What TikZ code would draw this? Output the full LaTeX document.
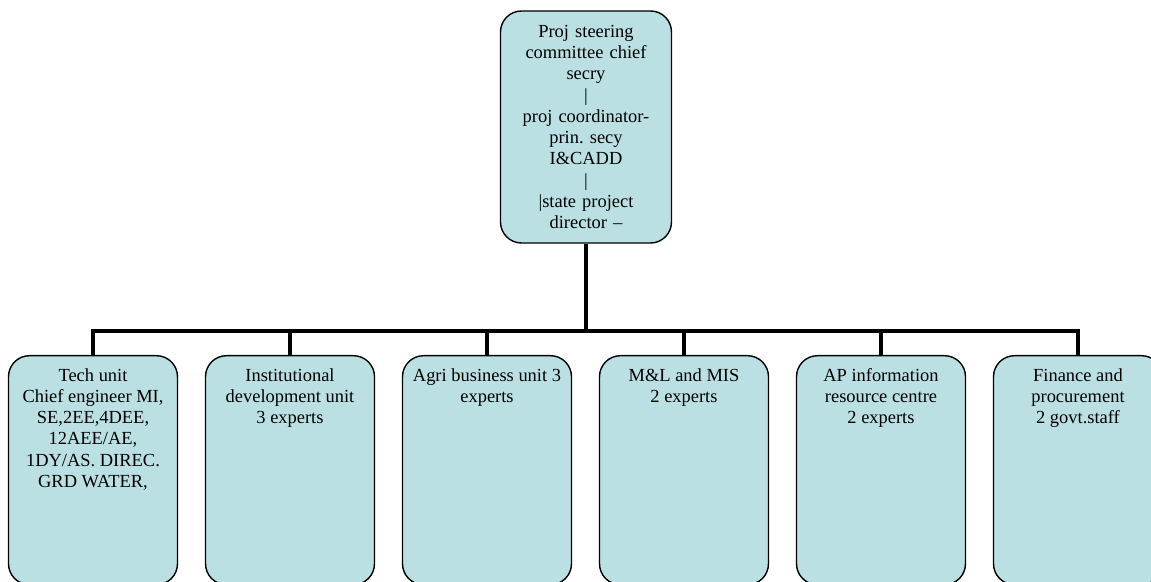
\documentclass[tikz,border=0pt]{standalone}
\usepackage{fontspec}
\setmainfont{Liberation Serif}
\usepackage{tikz}

\definecolor{boxblue}{RGB}{187,224,227}
\frenchspacing
% text of a lower box, kept at the top
\newcommand{\unittext}[1]{\parbox[b][4.08cm][t]{3.1cm}{\centering #1}}

\begin{document}
\begin{tikzpicture}[
    topbox/.style={draw=black, line width=0.8pt, fill=boxblue, rounded corners=0.42cm,
        minimum width=3.42cm, minimum height=4.64cm, text width=3.2cm, align=center,
        inner sep=0.1cm, font=\fontsize{10.5}{12.1}\selectfont},
    unitbox/.style={draw=black, line width=0.8pt, fill=boxblue, rounded corners=0.42cm,
        minimum width=3.38cm, minimum height=4.58cm, inner xsep=0.1cm, inner ysep=0.25cm,
        anchor=north, font=\fontsize{10.5}{12.1}\selectfont},
    link/.style={line width=2.8pt}
]
    \useasboundingbox (0,0) rectangle (23.02,-11.64);

    % Top box
    \node[topbox] (steer) at (11.72,-2.54) {Proj steering\\committee chief\\secry\\|\\proj coordinator-\\prin. secy\\I\&CADD\\|\\|state project\\director --};

    % Lower boxes
    \node[unitbox] (tech) at (1.86,-7.10) {\unittext{Tech unit\\Chief engineer MI,\\SE,2EE,4DEE,\\12AEE/AE,\\1DY/AS. DIREC.\\GRD WATER,}};
    \node[unitbox] (inst) at (5.80,-7.10) {\unittext{Institutional\\development unit\\3 experts}};
    \node[unitbox] (agri) at (9.74,-7.10) {\unittext{Agri business unit 3\\experts}};
    \node[unitbox] (mis) at (13.68,-7.10) {\unittext{M\&L and MIS\\2 experts}};
    \node[unitbox] (info) at (17.62,-7.10) {\unittext{AP information\\resource centre\\2 experts}};
    \node[unitbox] (fin) at (21.56,-7.10) {\unittext{Finance and\\procurement\\2 govt.staff}};

    % Connectors
    \coordinate (bar) at (11.72,-6.62);
    \draw[link] (steer.south) -- (bar);
    \draw[link] (tech.north) -- (tech.north |- bar) -- (fin.north |- bar) -- (fin.north);
    \draw[link] (inst.north) -- (inst.north |- bar);
    \draw[link] (agri.north) -- (agri.north |- bar);
    \draw[link] (mis.north) -- (mis.north |- bar);
    \draw[link] (info.north) -- (info.north |- bar);

\end{tikzpicture}
\end{document}
